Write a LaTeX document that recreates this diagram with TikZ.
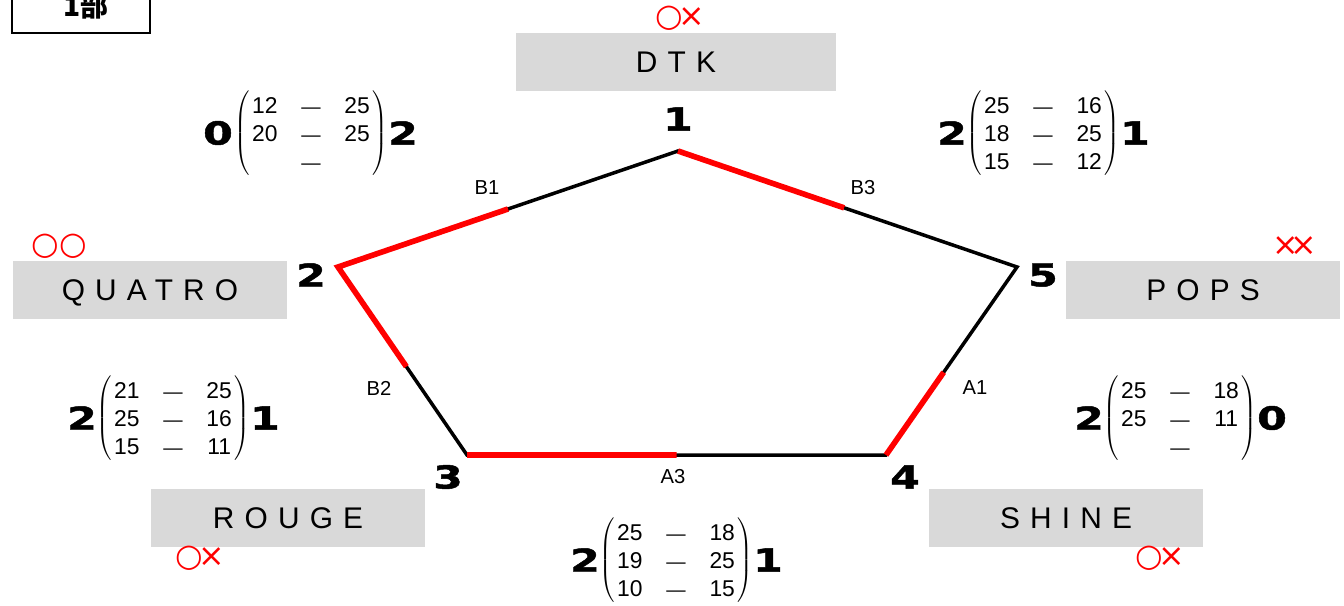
\documentclass[tikz,border=0pt]{standalone}
\usepackage{fontspec}
\setmainfont{Liberation Sans}
\newfontfamily\teamfont{Liberation Sans}[LetterSpace=34]
\newfontfamily\heavyfont{DejaVu Sans}[FakeStretch=1.35,BoldFeatures={FakeBold=1.5}]
\newfontfamily\markfont{DejaVu Sans}
\newfontfamily\cjk{Noto Sans CJK JP}
\newcommand\maru{{\markfont ○}}
\newcommand\batsu{{\markfont\kern-0.14em×\kern-0.14em}}
\usetikzlibrary{matrix,calc}
\definecolor{boxgray}{HTML}{D9D9D9}
\definecolor{markred}{HTML}{FF0000}
\tikzset{
	teambox/.style={fill=boxgray,minimum height=1.16cm,inner sep=0pt,font=\teamfont\fontsize{17}{17}\selectfont,text height=12.2pt,text depth=0pt},
	bignum/.style={font=\heavyfont\bfseries\fontsize{18}{18}\selectfont,inner sep=0pt},
	edgelab/.style={font=\fontsize{11.5}{11.5}\selectfont,inner sep=0pt},
	resultmark/.style={font=\fontsize{18}{18}\selectfont,text=markred,inner sep=0pt},
	score/.style={matrix of nodes,left delimiter=(,right delimiter=),inner sep=0pt,column sep=0.42cm,
		nodes={anchor=center,minimum width=0.5cm,minimum height=0.56cm,inner sep=0pt,
			text height=9.3pt,text depth=0pt,font=\fontsize{13}{13}\selectfont},
		column 2/.style={nodes={font=\fontsize{11}{11}\selectfont}}},
	edge/.style={line width=2pt},
	redge/.style={line width=3.2pt,red}
}
\begin{document}
\begin{tikzpicture}[x=0.02cm,y=-0.02cm]
			\def \W{1344};
			\def \H{605};
			\useasboundingbox (0,0) rectangle (\W,\H);
			\fill[white] (0,0) rectangle (\W,\H);
			\clip (0,0) rectangle (\W,\H);
			% part box
			\draw[line width=1.7pt] (12,-30) rectangle (150,33);
			\node[anchor=base,font=\cjk\bfseries\fontsize{16}{16}\selectfont] (part) at (86,16) {1部};
			% pentagon
			\coordinate (v1) at (678,151);
			\coordinate (v2) at (338,267);
			\coordinate (v3) at (467,455);
			\coordinate (v4) at (886,455);
			\coordinate (v5) at (1017,267);
			\draw[edge] (v1) -- (v2) -- (v3) -- (v4) -- (v5) -- cycle;
			\draw[redge] ($(v2)!0.5!(v1)$) -- (v2) -- ($(v2)!0.53!(v3)$);
			\draw[redge] (v1) -- ($(v1)!0.49!(v5)$);
			\draw[redge] (v3) -- ($(v3)!0.5!(v4)$);
			\draw[redge] (v4) -- ($(v4)!0.44!(v5)$);
			\foreach \i/\x/\y in {1/678/119,2/311/275,3/448/477,4/905/477,5/1043/275}
			{
				\node[bignum] (n\i) at (\x,\y) {\i};
			}
			\foreach \lab/\x/\y in {B1/487/188,B3/863/188,B2/379/388,A1/975/388,A3/673/477}
			{
				\node[edgelab] (\lab) at (\x,\y) {\lab};
			}
			% teams
			\foreach \name/\x/\y/\w in {DTK/676/62/6.4,QUATRO/150/290/5.5,POPS/1203/290/5.5,ROUGE/288/518/5.5,SHINE/1066/518/5.5}
			{
				\node[teambox,minimum width=\w cm] (\name) at (\x,\y) {\name};
			}
			\node[resultmark] (mDTK) at (678,18) {\maru\batsu};
			\node[resultmark] (mQUATRO) at (59,246) {\maru\maru};
			\node[resultmark] (mPOPS) at (1295,246) {\batsu\batsu};
			\node[resultmark] (mROUGE) at (198,558) {\maru\batsu};
			\node[resultmark] (mSHINE) at (1158,558) {\maru\batsu};
			% scores
			\matrix[score] (s12) at (311,133) {
				12 & — & 25 \\
				20 & — & 25 \\
				   & — &    \\
			};
			\node[bignum] (s12l) at (218,133) {0};
			\node[bignum] (s12r) at (403,133) {2};
			\matrix[score] (s15) at (1043,133) {
				25 & — & 16 \\
				18 & — & 25 \\
				15 & — & 12 \\
			};
			\node[bignum] (s15l) at (952,133) {2};
			\node[bignum] (s15r) at (1135,133) {1};
			\matrix[score] (s23) at (173,418) {
				21 & — & 25 \\
				25 & — & 16 \\
				15 & — & 11 \\
			};
			\node[bignum] (s23l) at (82,418) {2};
			\node[bignum] (s23r) at (265,418) {1};
			\matrix[score] (s45) at (1180,418) {
				25 & — & 18 \\
				25 & — & 11 \\
				   & — &    \\
			};
			\node[bignum] (s45l) at (1089,418) {2};
			\node[bignum] (s45r) at (1272,418) {0};
			\matrix[score] (s34) at (676,560) {
				25 & — & 18 \\
				19 & — & 25 \\
				10 & — & 15 \\
			};
			\node[bignum] (s34l) at (585,560) {2};
			\node[bignum] (s34r) at (768,560) {1};
		\end{tikzpicture}
\end{document}
